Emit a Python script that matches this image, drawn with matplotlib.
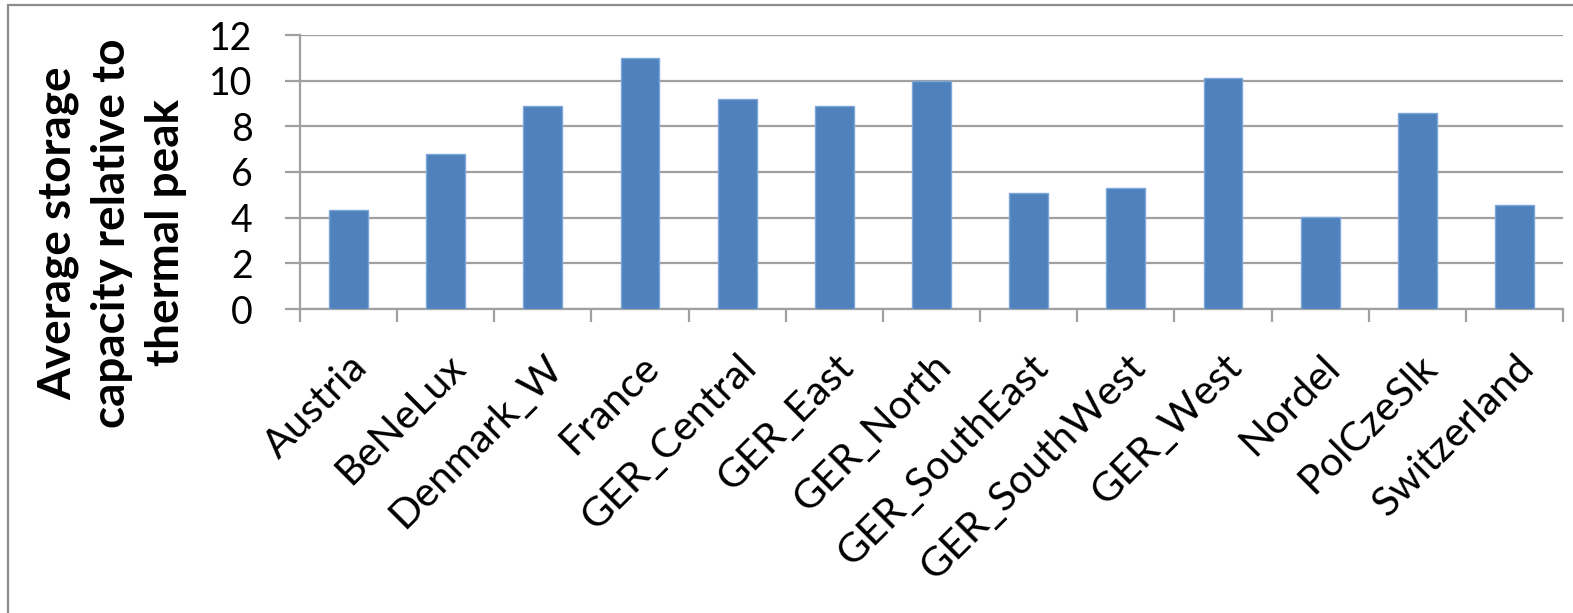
import matplotlib
matplotlib.use("Agg")
import matplotlib.pyplot as plt
from matplotlib.patches import Rectangle
from matplotlib.transforms import ScaledTranslation
import numpy as np

categories = ["Austria", "BeNeLux", "Denmark_W", "France", "GER_Central", "GER_East",
              "GER_North", "GER_SouthEast", "GER_SouthWest", "GER_West", "Nordel",
              "PolCzeSlk", "Switzerland"]
values = [4.35, 6.78, 8.89, 11.0, 9.21, 8.89, 10.0, 5.06, 5.32, 10.1, 4.02, 8.57, 4.56]
yticks = [0, 2, 4, 6, 8, 10, 12]
ylabel = "Average storage\ncapacity relative to\nthermal peak"

W, H = 1573, 613
fig = plt.figure(figsize=(W / 100, H / 100), dpi=100)
ax = fig.add_axes([300 / W, 1 - 309 / H, (1563 - 300) / W, (309 - 35) / H])

grid_c = "#a0a0a0"
x = np.arange(len(categories))
ax.bar(x, values, width=0.4, color="#4f81bd", edgecolor="#7ea6d8", linewidth=1.0, zorder=3)

ax.set_xlim(-0.5, len(categories) - 0.5)
ax.set_ylim(0, 12)
ax.set_yticks(yticks)
ax.set_yticklabels([str(t) for t in yticks], fontsize=27, family="Lato")
ax.yaxis.grid(True, color=grid_c, linewidth=1.6, zorder=0)
ax.set_axisbelow(True)

ax.set_xticks(x)
ax.set_xticklabels(categories, fontsize=29.5, family="Lato", rotation=45,
                   ha="right", va="top", rotation_mode="anchor")
shift = ScaledTranslation(-7 / 100, 0, fig.dpi_scale_trans)
for lab in ax.get_xticklabels():
    lab.set_transform(lab.get_transform() + shift)
ax.set_xticks(np.arange(len(categories) + 1) - 0.5, minor=True)
ax.tick_params(axis="x", which="major", length=0, pad=28)
ax.tick_params(axis="x", which="minor", length=9, width=1.6, color=grid_c, direction="out")
ax.tick_params(axis="y", which="major", length=11, width=1.6, color=grid_c, direction="out", pad=23)

for s in ["top", "right"]:
    ax.spines[s].set_visible(False)
for s in ["left", "bottom"]:
    ax.spines[s].set_color(grid_c)
    ax.spines[s].set_linewidth(1.6)

fig.text(112 / W, 1 - 233 / H, ylabel, rotation=90, ha="center", va="center",
         multialignment="center", fontsize=33, fontweight="bold", family="Lato",
         linespacing=1.35)

fig.patches.append(Rectangle((8 / W, -0.1), 1.2, 1.1 - 5 / H, transform=fig.transFigure,
                             fill=False, edgecolor="#8c8c8c", linewidth=1.6))

fig.savefig("out.png", dpi=100)
